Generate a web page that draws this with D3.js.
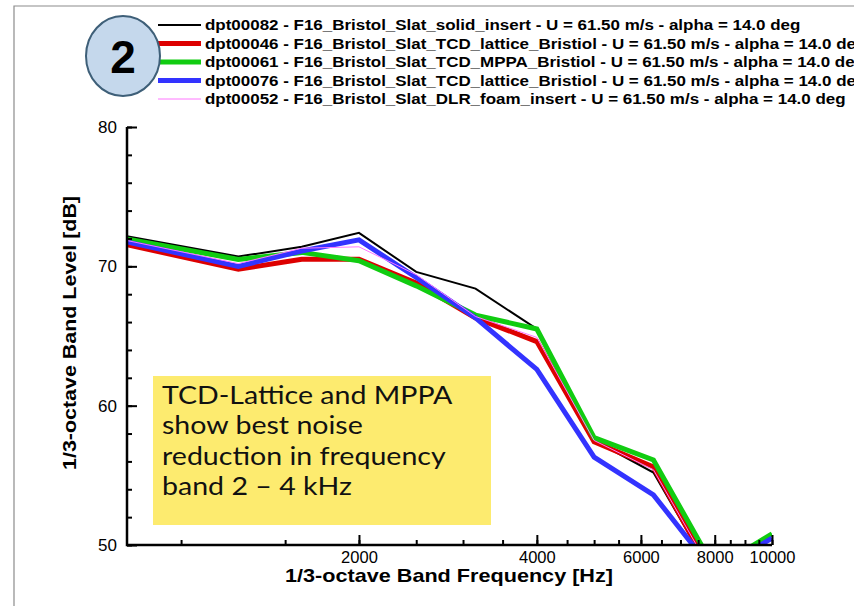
<!DOCTYPE html>
<html>
<head>
<meta charset="utf-8">
<script src="https://cdn.jsdelivr.net/npm/d3@7"></script>
<style>
  body { margin: 0; background: #fff; }
  svg { display: block; font-family: "Liberation Sans", Arial, sans-serif; }
</style>
</head>
<body>
<div id="chart"></div>
<script>
// Data: 1/3-octave band levels
const freqs = [800, 1250, 1600, 2000, 2500, 3150, 4000, 5000, 6300, 8000, 10000];

const solidInsert = [72.2, 70.7, 71.4, 72.4, 69.6, 68.4, 65.5, 57.5, 55.2, 47.6, 49.7];
const tcdLattice46 = [71.6, 69.8, 70.5, 70.5, 68.8, 66.3, 64.6, 57.4, 55.6, 47.6, 49.7];
const tcdMppa = [72.0, 70.5, 71.0, 70.4, 68.6, 66.5, 65.5, 57.7, 56.1, 48.3, 50.8];
const tcdLattice76 = [71.8, 70.0, 71.1, 71.9, 69.2, 66.3, 62.6, 56.3, 53.6, 48.0, 50.5];
const dlrFoam = [71.9, 70.2, 71.3, 71.4, 69.4, 66.4, 64.9, 57.5, 55.4, 47.7, 49.7];

const legendLabels = [
  "dpt00082 - F16_Bristol_Slat_solid_insert - U = 61.50 m/s - alpha = 14.0 deg",
  "dpt00046 - F16_Bristol_Slat_TCD_lattice_Bristiol - U = 61.50 m/s - alpha = 14.0 deg",
  "dpt00061 - F16_Bristol_Slat_TCD_MPPA_Bristiol - U = 61.50 m/s - alpha = 14.0 deg",
  "dpt00076 - F16_Bristol_Slat_TCD_lattice_Bristiol - U = 61.50 m/s - alpha = 14.0 deg",
  "dpt00052 - F16_Bristol_Slat_DLR_foam_insert - U = 61.50 m/s - alpha = 14.0 deg"
];

const xMajorTicks = [2000, 4000, 6000, 8000, 10000];
const xMinorTicks = d3.range(1000, 10001, 500);
const yMajorTicks = [50, 60, 70, 80];
const yMinorTicks = d3.range(50, 80.1, 2);

const noteLines = ["TCD-Lattice and MPPA", "show best noise", "reduction in frequency", "band 2 \u2013 4 kHz"];

const series = [
  {values: solidInsert, color: "#000000", width: 2},
  {values: tcdLattice46, color: "#dd0000", width: 5},
  {values: tcdMppa, color: "#11cc11", width: 5},
  {values: tcdLattice76, color: "#3333ff", width: 5},
  {values: dlrFoam, color: "#ff77ff", width: 1}
];

const width = 854, height = 606;
const plot = {left: 127, right: 772, top: 127, bottom: 545};
// the slide text is a bit wider than plain Arial
const legendStretch = 1.17;
const noteStretch = 1.12;

const svg = d3.select("#chart").append("svg")
  .attr("width", width)
  .attr("height", height);

// slide frame
svg.append("path")
  .attr("d", "M14," + height + "V6H" + width)
  .attr("fill", "none")
  .attr("stroke", "#8c8c8c")
  .attr("stroke-width", 1.2);

const x = d3.scaleLog().domain([810, 10000]).range([plot.left, plot.right]);
const y = d3.scaleLinear().domain([50, 80]).range([plot.bottom, plot.top]);

svg.append("clipPath").attr("id", "clip")
  .append("rect")
  .attr("x", plot.left).attr("y", plot.top)
  .attr("width", plot.right - plot.left)
  .attr("height", plot.bottom - plot.top);

// yellow note box
svg.append("rect")
  .attr("x", 153).attr("y", 376)
  .attr("width", 338).attr("height", 149)
  .attr("fill", "#fdeb6f");
svg.append("g")
  .attr("transform", "translate(162,0) scale(" + noteStretch + ",1)")
  .selectAll("text")
  .data(noteLines)
  .enter()
  .append("text")
  .attr("x", 0)
  .attr("y", function(d, i){ return 404 + i * 30.5; })
  .attr("font-family", "Lato, 'Open Sans', sans-serif")
  .attr("font-size", 25.5)
  .attr("fill", "#111")
  .text(function(d){ return d; });

// lines
const line = d3.line()
  .x(function(d, i){ return x(freqs[i]); })
  .y(function(d){ return y(d); });

svg.append("g")
  .attr("clip-path", "url(#clip)")
  .selectAll("path")
  .data(series)
  .enter()
  .append("path")
  .attr("d", function(d){ return line(d.values); })
  .attr("fill", "none")
  .attr("stroke", function(d){ return d.color; })
  .attr("stroke-width", function(d){ return d.width; })
  .attr("stroke-linejoin", "miter");

// axes
const xAxis = svg.append("g").attr("transform", "translate(0," + plot.bottom + ")");
xAxis.call(d3.axisBottom(x).tickValues(xMinorTicks).tickSize(-5).tickFormat(""));
xAxis.append("g").call(d3.axisBottom(x).tickValues(xMajorTicks).tickSize(-10).tickPadding(6).tickFormat(d3.format("d")));
xAxis.selectAll(".domain").remove();
xAxis.selectAll("line").attr("stroke", "#000").attr("stroke-width", 2);
xAxis.selectAll("text").attr("font-size", 16.5).attr("fill", "#000")
  .attr("font-family", "'Liberation Sans', Arial, sans-serif");

const yAxis = svg.append("g").attr("transform", "translate(" + plot.left + ",0)");
yAxis.call(d3.axisLeft(y).tickValues(yMinorTicks).tickSize(-5).tickFormat(""));
yAxis.append("g").call(d3.axisLeft(y).tickValues(yMajorTicks).tickSize(-10).tickPadding(10).tickFormat(d3.format("d")));
yAxis.selectAll(".domain").remove();
yAxis.selectAll("line").attr("stroke", "#000").attr("stroke-width", 2);
yAxis.selectAll("text").attr("font-size", 17).attr("fill", "#000")
  .attr("font-family", "'Liberation Sans', Arial, sans-serif");

svg.append("path")
  .attr("d", "M" + plot.left + "," + plot.top + "V" + plot.bottom + "H" + plot.right)
  .attr("fill", "none")
  .attr("stroke", "#000")
  .attr("stroke-width", 2.5);

// axis titles
svg.append("text")
  .attr("x", 449).attr("y", 582)
  .attr("text-anchor", "middle")
  .attr("font-size", 19).attr("font-weight", "bold")
  .attr("textLength", 328).attr("lengthAdjust", "spacingAndGlyphs")
  .text("1/3-octave Band Frequency [Hz]");

svg.append("text")
  .attr("transform", "translate(76,333) rotate(-90)")
  .attr("text-anchor", "middle")
  .attr("font-size", 19).attr("font-weight", "bold")
  .attr("textLength", 274).attr("lengthAdjust", "spacingAndGlyphs")
  .text("1/3-octave Band Level [dB]");

// legend
const legend = svg.append("g");
legend.selectAll("line")
  .data(series)
  .enter()
  .append("line")
  .attr("x1", 158).attr("x2", 201)
  .attr("y1", function(d, i){ return 25 + i * 18.5; })
  .attr("y2", function(d, i){ return 25 + i * 18.5; })
  .attr("stroke", function(d){ return d.color; })
  .attr("stroke-width", function(d){ return d.width; });
legend.append("g")
  .attr("transform", "translate(205,0) scale(" + legendStretch + ",1)")
  .selectAll("text")
  .data(legendLabels)
  .enter()
  .append("text")
  .attr("x", 0)
  .attr("y", function(d, i){ return 25 + i * 18.5; })
  .attr("dy", "0.35em")
  .attr("font-size", 14.5).attr("font-weight", "bold")
  .text(function(d){ return d; });

// badge
svg.append("ellipse")
  .attr("cx", 123).attr("cy", 56)
  .attr("rx", 37).attr("ry", 40)
  .attr("fill", "#c5d8ec")
  .attr("stroke", "#3e5f78")
  .attr("stroke-width", 2);
svg.append("text")
  .attr("x", 123).attr("y", 56)
  .attr("dy", "0.36em")
  .attr("text-anchor", "middle")
  .attr("font-size", 46).attr("font-weight", "bold")
  .text("2");
</script>
</body>
</html>
